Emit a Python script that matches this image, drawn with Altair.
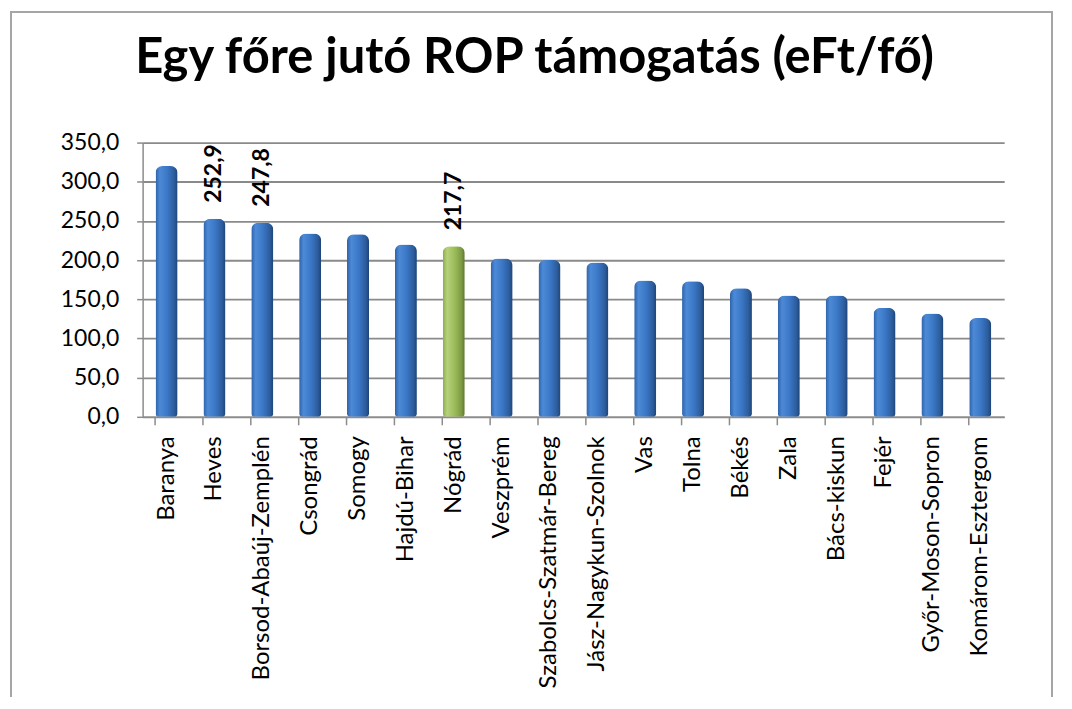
import altair as alt
import pandas as pd

counties = ["Baranya", "Heves", "Borsod-Abaúj-Zemplén", "Csongrád", "Somogy",
            "Hajdú-Bihar", "Nógrád", "Veszprém", "Szabolcs-Szatmár-Bereg",
            "Jász-Nagykun-Szolnok", "Vas", "Tolna", "Békés", "Zala",
            "Bács-kiskun", "Fejér", "Győr-Moson-Sopron", "Komárom-Esztergom"]
values = [320.0, 252.9, 247.8, 234.0, 233.0, 220.0, 217.7, 202.0, 200.0,
          197.0, 174.0, 173.0, 164.0, 155.0, 155.0, 139.0, 132.0, 126.0]
highlight = [False, False, False, False, False, False, True, False, False,
             False, False, False, False, False, False, False, False, False]
show_label = [False, True, True, False, False, False, True, False, False,
              False, False, False, False, False, False, False, False, False]
y_ticks = [0, 50, 100, 150, 200, 250, 300, 350]

df = pd.DataFrame({"megye": counties, "ertek": values,
                   "kiemelt": highlight, "felirat": show_label})

FONT = "Lato"

x_enc = alt.X("megye:N", sort=counties, title=None,
              scale=alt.Scale(paddingInner=0.54, paddingOuter=0.27),
              axis=alt.Axis(labelAngle=-90, labelFontSize=24, labelFont=FONT,
                            labelColor="black", labelPadding=11,
                            bandPosition=0, tickSize=8, tickColor="#8c8c8c",
                            domainColor="#8c8c8c", domainWidth=1.5,
                            tickWidth=1.5, labelLimit=400))
y_enc = alt.Y("ertek:Q", title=None,
              scale=alt.Scale(domain=[0, 350], nice=False),
              axis=alt.Axis(values=y_ticks, labelOverlap=False,
                            format=".1f", labelFontSize=23, labelFont=FONT,
                            labelColor="black", tickSize=6, tickColor="#8c8c8c",
                            domainColor="#8c8c8c", domainWidth=1.5,
                            tickWidth=1.5, gridColor="#8a8a8a", gridWidth=1.8,
                            labelPadding=18))

blue = alt.Gradient(gradient="linear", x1=0, x2=1, y1=0, y2=0, stops=[
    alt.GradientStop(color="#2f62a8", offset=0),
    alt.GradientStop(color="#4c8ad8", offset=0.2),
    alt.GradientStop(color="#3a76c4", offset=0.55),
    alt.GradientStop(color="#2c5c9c", offset=0.85),
    alt.GradientStop(color="#1d4476", offset=1)])
green = alt.Gradient(gradient="linear", x1=0, x2=1, y1=0, y2=0, stops=[
    alt.GradientStop(color="#8caa4c", offset=0),
    alt.GradientStop(color="#b6d27a", offset=0.2),
    alt.GradientStop(color="#9bbb59", offset=0.55),
    alt.GradientStop(color="#7e9a44", offset=0.85),
    alt.GradientStop(color="#5e7530", offset=1)])

base = alt.Chart(df)

frame = base.mark_rect(fill="white", fillOpacity=0, stroke="#a6a6a6",
                       strokeWidth=1.2).encode(
    x=alt.value(-132), x2=alt.value(912), y=alt.value(-131), y2=alt.value(620))

bars_blue = base.mark_bar(fill=blue, cornerRadiusTopLeft=7, cornerRadiusTopRight=7,
                          cornerRadiusBottomLeft=3, cornerRadiusBottomRight=3).encode(
    x=x_enc, y=y_enc).transform_filter("!datum.kiemelt")
bars_green = base.mark_bar(fill=green, cornerRadiusTopLeft=7, cornerRadiusTopRight=7,
                           cornerRadiusBottomLeft=3, cornerRadiusBottomRight=3).encode(
    x=x_enc, y=y_enc).transform_filter("datum.kiemelt")

labels = base.mark_text(angle=270, align="left", baseline="middle", dx=16,
                        font=FONT, fontSize=23, fontWeight="bold",
                        color="black").encode(
    x=x_enc, y=y_enc,
    text=alt.Text("ertek:Q", format=".1f")).transform_filter("datum.felirat")

chart = alt.layer(frame, bars_blue, bars_green, labels).properties(
    width=864, height=275,
    title=alt.TitleParams("Egy főre jutó ROP támogatás (eFt/fő)", font=FONT,
                          fontSize=49, fontWeight="bold", color="black",
                          anchor="middle", dx=-39, offset=-111,
                          baseline="alphabetic"),
    autosize=alt.AutoSizeParams(type="none"),
    padding={"left": 135, "top": 134, "right": 60, "bottom": 280}
).configure(background="white").configure_view(stroke=None)

chart.save("out.html", embed_options={
    "renderer": "svg", "actions": False,
    "formatLocale": {"decimal": ",", "thousands": " ", "grouping": [3],
                     "currency": ["", " Ft"]}})
